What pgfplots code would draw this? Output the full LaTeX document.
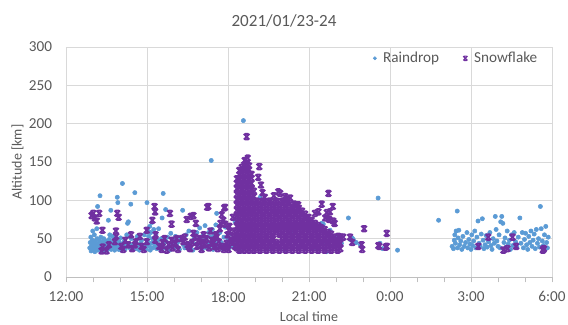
\documentclass[border=0pt]{standalone}
\usepackage{pgfplots}
\pgfplotsset{compat=1.18}
\usepackage{fontspec}
\setmainfont{Carlito}
\definecolor{rd}{HTML}{5B9BD5}
\definecolor{sf}{HTML}{7030A0}
\definecolor{txt}{HTML}{595959}
\definecolor{grd}{HTML}{D9D9D9}
\definecolor{axl}{HTML}{BFBFBF}
\pgfdeclareplotmark{xb}{%
  \pgfpathmoveto{\pgfqpoint{-\pgfplotmarksize}{-\pgfplotmarksize}}%
  \pgfpathlineto{\pgfqpoint{\pgfplotmarksize}{\pgfplotmarksize}}%
  \pgfpathmoveto{\pgfqpoint{-\pgfplotmarksize}{\pgfplotmarksize}}%
  \pgfpathlineto{\pgfqpoint{\pgfplotmarksize}{-\pgfplotmarksize}}%
  \pgfpathmoveto{\pgfqpoint{-0.6\pgfplotmarksize}{\pgfplotmarksize}}%
  \pgfpathlineto{\pgfqpoint{0.6\pgfplotmarksize}{\pgfplotmarksize}}%
  \pgfpathmoveto{\pgfqpoint{-0.6\pgfplotmarksize}{-\pgfplotmarksize}}%
  \pgfpathlineto{\pgfqpoint{0.6\pgfplotmarksize}{-\pgfplotmarksize}}%
  \pgfusepathqstroke}
\begin{document}
\begin{tikzpicture}
\begin{axis}[
  scale only axis, width=364.5pt, height=172.5pt,
  xmin=0, xmax=18, ymin=0, ymax=300,
  xtick={0,3,...,18},
  xticklabels={12:00,15:00,18:00,21:00,0:00,3:00,6:00},
  minor xtick={1,2,4,5,7,8,10,11,13,14,16,17},
  ytick={0,50,...,300},
  grid=major,
  major grid style={draw=grd, line width=0.6pt},
  minor grid style={draw=none},
  axis x line*=bottom, axis y line*=left,
  axis line style={-},
  x axis line style={draw=axl, line width=0.6pt},
  y axis line style={draw=grd, line width=0.6pt},
  tick align=outside,
  major tick length=4pt, minor tick length=4pt,
  xtick style={draw=axl, line width=0.6pt},
  every minor x tick/.style={draw=axl, line width=0.6pt},
  ytick style={draw=none},
  /pgf/number format/assume math mode=true,
  tick label style={font=\fontsize{11.4}{13}\selectfont, text=txt},
  xticklabel style={yshift=-3.5pt},
  yticklabel style={xshift=-3pt},
  title={2021/01/23-24},
  every axis title/.style={at={(axis description cs:0.4486,1.113)}, anchor=center, font=\fontsize{12.8}{15}\selectfont, text=txt},
  xlabel={Local time},
  every axis x label/.style={at={(axis description cs:0.5,-0.172)}, anchor=center, font=\fontsize{10.5}{12}\selectfont, text=txt},
  ylabel={Altitude [km]},
  every axis y label/.style={at={(axis description cs:-0.0998,0.5)}, rotate=90, anchor=center, font=\fontsize{10.5}{12}\selectfont, text=txt},
  legend columns=2,
  legend style={at={(axis description cs:0.984,0.951)}, anchor=east, draw=none, fill=none,
    font=\fontsize{11.4}{13}\selectfont, text=txt,
    /tikz/every odd column/.append style={column sep=3pt},
    /tikz/every even column/.append style={column sep=16pt}},
]
% Raindrop
\addplot[only marks, mark=*, mark size=1.6pt, color=rd, mark options={draw=rd, fill=rd}, legend image post style={mark size=1.2pt}] coordinates {
(0.88,38)(0.90,45)(0.92,52)(0.93,34)(0.95,41)(0.97,48)(0.99,60)(1.00,36)(1.02,44)(1.04,39)(1.05,55)(1.07,33)(1.08,47)(1.10,42)(1.12,37)(1.14,63)(1.15,50)(1.17,92)(1.18,35)(1.20,44)(1.22,40)(1.24,48)(1.26,106)(1.27,36)(1.29,52)(1.30,41)(1.33,38)(1.35,45)(1.37,34)(1.40,50)(1.42,39)(1.44,43)(1.46,36)(1.48,47)(1.50,41)(1.52,35)(1.55,44)(1.57,74)(1.58,38)(1.60,49)(1.62,55)(1.64,40)(1.66,87)(1.67,36)(1.70,45)(1.72,53)(1.74,39)(1.77,42)(1.80,35)(1.82,48)(1.85,38)(1.88,44)(1.90,104)(1.92,97)(1.93,40)(1.95,36)(1.97,46)(2.00,39)(2.02,51)(2.05,35)(2.09,122)(2.10,43)(2.13,38)(2.16,47)(2.19,36)(2.22,41)(2.25,55)(2.28,70)(2.31,72)(2.34,44)(2.37,38)(2.40,95)(2.42,50)(2.45,36)(2.48,42)(2.52,39)(2.55,110)(2.57,46)(2.60,37)(2.64,53)(2.68,41)(2.72,35)(2.76,44)(2.80,48)(2.85,38)(2.90,55)(2.93,42)(2.96,36)(3.00,97)(3.02,47)(3.04,60)(3.06,53)(3.08,40)(3.10,66)(3.12,35)(3.14,58)(3.16,44)(3.18,71)(3.20,50)(3.22,38)(3.25,62)(3.28,45)(3.30,41)(3.33,55)(3.36,37)(3.40,48)(3.43,63)(3.46,42)(3.50,36)(3.53,50)(3.56,77)(3.60,109)(3.62,44)(3.66,38)(3.69,88)(3.72,46)(3.76,52)(3.80,40)(3.84,35)(3.88,57)(3.92,43)(3.96,48)(4.00,38)(4.05,53)(4.10,41)(4.15,46)(4.20,36)(4.25,50)(4.32,87)(4.35,42)(4.40,38)(4.45,55)(4.50,44)(4.55,60)(4.60,39)(4.65,47)(4.70,35)(4.75,52)(4.80,43)(4.85,58)(4.90,40)(4.95,64)(5.00,48)(5.05,36)(5.08,55)(5.12,42)(5.15,67)(5.18,50)(5.22,38)(5.25,45)(5.28,58)(5.32,40)(5.35,52)(5.38,152)(5.40,47)(5.42,62)(5.45,36)(5.48,55)(5.52,44)(5.55,68)(5.58,83)(5.62,49)(5.66,40)(5.70,58)(5.75,45)(5.80,37)(5.85,52)(5.90,65)(5.95,42)(6.00,48)(6.05,38)(6.11,56)(6.15,44)(6.20,40)(6.26,72)(6.30,47)(6.40,36)(6.50,34)(6.57,204)(6.60,52)(6.70,40)(7.19,104)(7.30,45)(7.60,38)(8.10,35)(8.40,60)(8.70,42)(8.96,60)(9.10,48)(9.25,38)(9.43,69)(9.47,70)(9.53,69)(9.60,45)(9.65,33)(9.78,61)(9.90,40)(10.00,52)(10.05,48)(10.20,44)(10.46,77)(10.52,49)(10.60,51)(10.64,49)(10.75,45)(10.90,42)(11.56,103)(11.63,44)(11.73,37)(12.28,35)(13.80,74)
(14.30,40)(14.35,37)(14.38,48)(14.40,55)(14.42,44)(14.45,60)(14.49,86)(14.50,38)(14.52,51)(14.55,61)(14.58,42)(14.62,47)(14.66,36)(14.70,53)(14.75,40)(14.80,45)(14.85,58)(14.88,38)(14.92,49)(14.96,43)(15.00,36)(15.03,55)(15.06,41)(15.10,47)(15.14,60)(15.18,38)(15.22,52)(15.26,73)(15.30,44)(15.34,40)(15.38,56)(15.42,76)(15.45,48)(15.48,37)(15.52,42)(15.56,54)(15.60,39)(15.65,46)(15.70,58)(15.74,41)(15.78,36)(15.82,50)(15.86,44)(15.90,79)(15.93,62)(15.96,47)(16.00,40)(16.04,55)(16.08,38)(16.10,72)(16.14,79)(16.18,70)(16.22,45)(16.26,51)(16.30,39)(16.34,60)(16.38,43)(16.42,48)(16.46,36)(16.50,55)(16.55,41)(16.60,58)(16.65,46)(16.70,39)(16.75,52)(16.81,77)(16.85,44)(16.90,58)(16.94,38)(16.98,49)(17.02,57)(17.06,42)(17.10,36)(17.14,53)(17.18,45)(17.22,60)(17.26,40)(17.30,48)(17.34,56)(17.38,37)(17.42,62)(17.46,44)(17.50,50)(17.54,39)(17.57,92)(17.60,63)(17.64,47)(17.68,41)(17.72,55)(17.77,66)(17.80,45)(17.83,38)(17.86,52)
};
\addlegendentry{Raindrop}
% Snowflake
\addplot[only marks, mark=xb, mark size=2.1pt, color=sf, mark options={draw=sf, line width=1.35pt}, legend image post style={mark size=1.6pt, mark options={line width=0.9pt}}] coordinates {
(0.95,80)(1.01,83)(1.07,77)(1.14,73)(1.23,83)(1.35,61)(1.36,39)(1.32,34)(1.50,34)(1.59,42)(1.81,46)(1.85,60)(1.86,53)(1.90,83)(1.95,78)(2.05,40)(2.12,36)(2.20,48)(2.30,42)(2.41,55)(2.45,37)(2.55,42)(2.60,46)(2.74,53)(2.80,40)(2.88,36)(2.99,61)(2.99,46)(3.20,74)(3.28,92)(3.30,85)(3.30,48)(3.32,55)(3.45,40)(3.55,36)(3.58,45)(3.65,50)(3.73,35)(3.80,42)(3.85,83)(3.91,69)(3.91,48)(3.95,38)(4.05,44)(4.10,50)(4.15,36)(4.28,50)(4.35,46)(4.40,52)(4.47,75)(4.50,42)(4.55,39)(4.60,37)(4.62,79)(4.68,45)(4.72,80)(4.72,57)(4.78,52)(4.81,70)(4.85,40)(4.90,47)(4.96,50)(5.02,36)(5.05,45)(5.10,55)(5.15,42)(5.20,50)(5.23,91)(5.27,92)(5.30,38)(5.35,60)(5.40,48)(5.45,44)(5.50,40)(5.55,55)(5.58,52)(5.62,37)(5.66,46)(5.70,63)(5.72,70)(5.77,81)(5.78,40)(5.83,74)(5.85,36)(5.86,90)(5.89,91)(5.89,69)(5.92,40)(5.95,44)(5.98,55)(6.02,36)(6.05,66)(6.07,59)(6.10,45)(6.13,48)(6.18,78)(6.20,52)(6.22,60)(6.25,40)(6.28,50)
(6.33,38)(6.33,45)(6.33,52)(6.33,59)(6.33,66)(6.33,73)(6.33,80)(6.33,87)(6.33,94)(6.33,101)(6.33,108)(6.33,115)(6.33,122)(6.33,128)
(6.42,35)(6.42,42)(6.42,49)(6.42,56)(6.42,63)(6.42,70)(6.42,77)(6.42,84)(6.42,91)(6.42,98)(6.42,105)(6.42,112)(6.42,119)(6.42,126)(6.42,133)(6.42,139)
(6.51,38)(6.51,45)(6.51,52)(6.51,59)(6.51,66)(6.51,73)(6.51,80)(6.51,87)(6.51,94)(6.51,101)(6.51,108)(6.51,115)(6.51,122)(6.51,129)(6.51,136)(6.51,143)
(6.60,35)(6.60,42)(6.60,49)(6.60,56)(6.60,63)(6.60,70)(6.60,77)(6.60,84)(6.60,91)(6.60,98)(6.60,105)(6.60,112)(6.60,119)(6.60,126)(6.60,133)(6.60,140)(6.60,146)
(6.69,38)(6.69,45)(6.69,52)(6.69,59)(6.69,66)(6.69,73)(6.69,80)(6.69,87)(6.69,94)(6.69,101)(6.69,108)(6.69,115)(6.69,122)(6.69,129)(6.69,136)(6.69,143)(6.69,148)
(6.78,35)(6.78,42)(6.78,49)(6.78,56)(6.78,63)(6.78,70)(6.78,77)(6.78,84)(6.78,91)(6.78,98)(6.78,105)(6.78,112)(6.78,119)(6.78,126)(6.78,133)(6.78,140)(6.78,145)
(6.87,38)(6.87,45)(6.87,52)(6.87,59)(6.87,66)(6.87,73)(6.87,80)(6.87,87)(6.87,94)(6.87,101)(6.87,108)(6.87,115)(6.87,122)(6.87,129)(6.87,134)
(6.96,35)(6.96,42)(6.96,49)(6.96,56)(6.96,63)(6.96,70)(6.96,77)(6.96,84)(6.96,91)(6.96,98)(6.96,105)(6.96,112)
(7.06,38)(7.06,45)(7.06,52)(7.06,59)(7.06,66)(7.06,73)(7.06,80)(7.06,87)(7.06,94)(7.06,99)
(7.18,35)(7.18,42)(7.18,49)(7.18,56)(7.18,63)(7.18,70)(7.18,77)(7.18,84)(7.18,91)(7.18,98)
(7.30,38)(7.30,45)(7.30,52)(7.30,59)(7.30,66)(7.30,73)(7.30,80)(7.30,87)(7.30,94)(7.30,99)
(7.42,35)(7.42,42)(7.42,49)(7.42,56)(7.42,63)(7.42,70)(7.42,77)(7.42,84)(7.42,91)(7.42,98)
(7.54,38)(7.54,45)(7.54,52)(7.54,59)(7.54,66)(7.54,73)(7.54,80)(7.54,87)(7.54,94)(7.54,99)
(7.66,35)(7.66,42)(7.66,49)(7.66,56)(7.66,63)(7.66,70)(7.66,77)(7.66,84)(7.66,91)(7.66,98)
(7.78,38)(7.78,45)(7.78,59)(7.78,66)(7.78,73)(7.78,80)(7.78,87)(7.78,94)(7.78,99)
(7.90,35)(7.90,42)(7.90,56)(7.90,63)(7.90,70)(7.90,77)(7.90,84)(7.90,91)(7.90,98)
(8.02,38)(8.02,45)(8.02,52)(8.02,59)(8.02,66)(8.02,73)(8.02,80)(8.02,87)(8.02,94)(8.02,99)
(8.14,35)(8.14,42)(8.14,49)(8.14,56)(8.14,63)(8.14,70)(8.14,77)(8.14,84)(8.14,91)(8.14,98)
(8.26,38)(8.26,45)(8.26,52)(8.26,59)(8.26,66)(8.26,73)(8.26,80)(8.26,87)(8.26,94)
(8.38,35)(8.38,42)(8.38,49)(8.38,56)(8.38,63)(8.38,70)(8.38,77)(8.38,84)(8.38,91)
(8.50,38)(8.50,45)(8.50,52)(8.50,59)(8.50,66)(8.50,73)(8.50,80)(8.50,87)(8.50,92)
(8.62,35)(8.62,42)(8.62,49)(8.62,56)(8.62,63)(8.62,70)(8.62,77)(8.62,84)(8.62,90)
(8.74,38)(8.74,45)(8.74,52)(8.74,59)(8.74,66)(8.74,73)(8.74,80)(8.74,86)
(8.86,35)(8.86,42)(8.86,49)(8.86,56)(8.86,63)(8.86,70)(8.86,77)(8.86,82)
(8.98,38)(8.98,45)(8.98,52)(8.98,59)(8.98,66)(8.98,73)(8.98,78)
(9.10,35)(9.10,42)(9.10,49)(9.10,56)(9.10,63)(9.10,70)(9.10,74)
(9.22,38)(9.22,45)(9.22,52)(9.22,59)(9.22,66)(9.22,70)
(9.34,35)(9.34,42)(9.34,49)(9.34,56)(9.34,63)(9.34,67)
(9.46,38)(9.46,45)(9.46,52)(9.46,59)(9.46,64)
(9.58,35)(9.58,42)(9.58,49)(9.58,56)(9.58,62)
(9.70,38)(9.70,45)(9.70,52)(9.70,58)
(9.82,35)(9.82,42)(9.82,49)(9.82,56)
(9.94,38)(9.94,45)(9.94,52)
(10.06,35)(10.06,42)(10.06,48)
(10.16,37)(10.16,44)
(6.69,183)(6.73,155)(6.62,152)(7.16,144)(7.12,130)(7.22,120)(7.28,110)(7.36,104)(7.70,106)(7.86,111)(7.93,109)(8.11,105)(8.17,101)(8.30,103)(8.45,95)(8.60,94)(9.22,83)(9.35,85)(9.47,95)(9.66,84)(9.72,109)(9.78,85)(9.88,92)(9.60,77)(9.75,75)(9.90,73)(9.95,70)(10.09,53)(10.17,52)(10.27,52)(10.52,52)(10.60,45)(10.95,42)(10.97,36)(11.04,63)(11.57,41)(11.60,40)(11.88,40)(11.88,57)(11.84,39)(15.27,40)(15.64,52)(16.20,35)(16.35,37)(16.54,52)(16.67,40)(17.66,35)(17.70,37)(17.68,36)
};
\addlegendentry{Snowflake}
\end{axis}
\pgfresetboundingbox
\path[use as bounding box] (-49.5pt,-36pt) rectangle (376.5pt,207.75pt);
\end{tikzpicture}
\end{document}
